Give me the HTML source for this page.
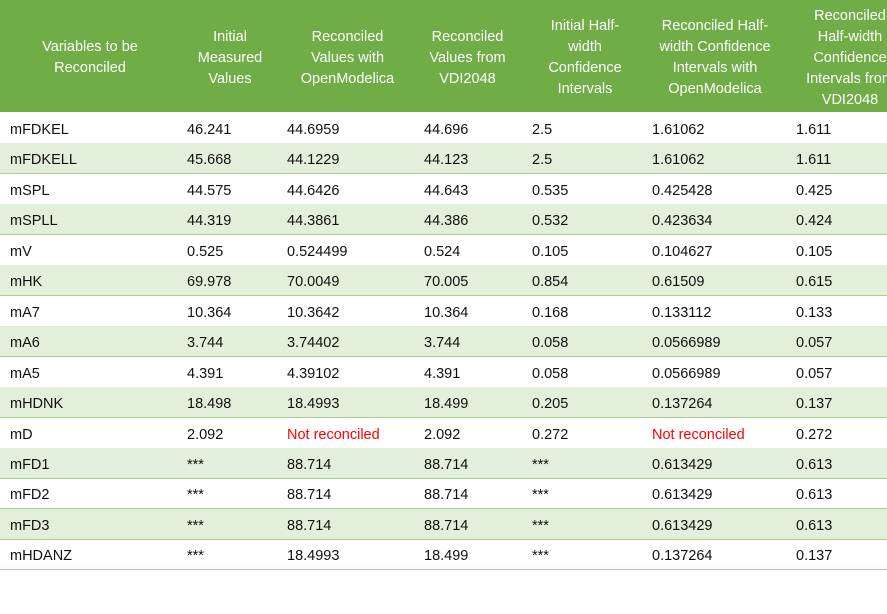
<!DOCTYPE html>
<html><head><style>
body{margin:0;width:887px;height:614px;background:#fff;overflow:hidden;font-family:"Liberation Sans",Arial,sans-serif;position:relative}
.hd{position:absolute;left:0;top:0;width:887px;height:112px;background:#70ad47}
.h{position:absolute;color:#fff;font-size:14.5px;line-height:21px;text-align:center;top:2px;height:112px;display:flex;align-items:center;justify-content:center}
.r{position:absolute;left:0;width:887px;height:30px;border-bottom:1px solid #a9d08e;font-size:14.5px;color:#111}
.r span{position:absolute;top:9px;white-space:nowrap}
.g{background:#e2efda}
.red{color:#f00}
</style></head><body>
<div class="hd"></div>
<div class="h" style="left:20px;width:140px">Variables to be<br>Reconciled</div>
<div class="h" style="left:185px;width:90px">Initial<br>Measured<br>Values</div>
<div class="h" style="left:285px;width:125px">Reconciled<br>Values with<br>OpenModelica</div>
<div class="h" style="left:410px;width:115px">Reconciled<br>Values from<br>VDI2048</div>
<div class="h" style="left:530px;width:110px">Initial Half-<br>width<br>Confidence<br>Intervals</div>
<div class="h" style="left:645px;width:140px">Reconciled Half-<br>width Confidence<br>Intervals with<br>OpenModelica</div>
<div class="h" style="left:790px;width:120px;white-space:nowrap">Reconciled<br>Half-width<br>Confidence<br>Intervals from<br>VDI2048</div>
<div id="rows"></div>
<script>
var d=[["mFDKEL","46.241","44.6959","44.696","2.5","1.61062","1.611"],
["mFDKELL","45.668","44.1229","44.123","2.5","1.61062","1.611"],
["mSPL","44.575","44.6426","44.643","0.535","0.425428","0.425"],
["mSPLL","44.319","44.3861","44.386","0.532","0.423634","0.424"],
["mV","0.525","0.524499","0.524","0.105","0.104627","0.105"],
["mHK","69.978","70.0049","70.005","0.854","0.61509","0.615"],
["mA7","10.364","10.3642","10.364","0.168","0.133112","0.133"],
["mA6","3.744","3.74402","3.744","0.058","0.0566989","0.057"],
["mA5","4.391","4.39102","4.391","0.058","0.0566989","0.057"],
["mHDNK","18.498","18.4993","18.499","0.205","0.137264","0.137"],
["mD","2.092","!Not reconciled","2.092","0.272","!Not reconciled","0.272"],
["mFD1","***","88.714","88.714","***","0.613429","0.613"],
["mFD2","***","88.714","88.714","***","0.613429","0.613"],
["mFD3","***","88.714","88.714","***","0.613429","0.613"],
["mHDANZ","***","18.4993","18.499","***","0.137264","0.137"]];
var xs=[10,187,287,424,532,652,796],h="";
d.forEach(function(r,i){
h+='<div class="r'+(i%2?' g':'')+'" style="top:'+(113+i*30.45).toFixed(1)+'px">';
r.forEach(function(c,j){var red=c[0]=="!";h+='<span'+(red?' class="red"':'')+' style="left:'+xs[j]+'px">'+(red?c.slice(1):c)+'</span>';});
h+='</div>';});
document.getElementById("rows").innerHTML=h;
</script>
</body></html>
